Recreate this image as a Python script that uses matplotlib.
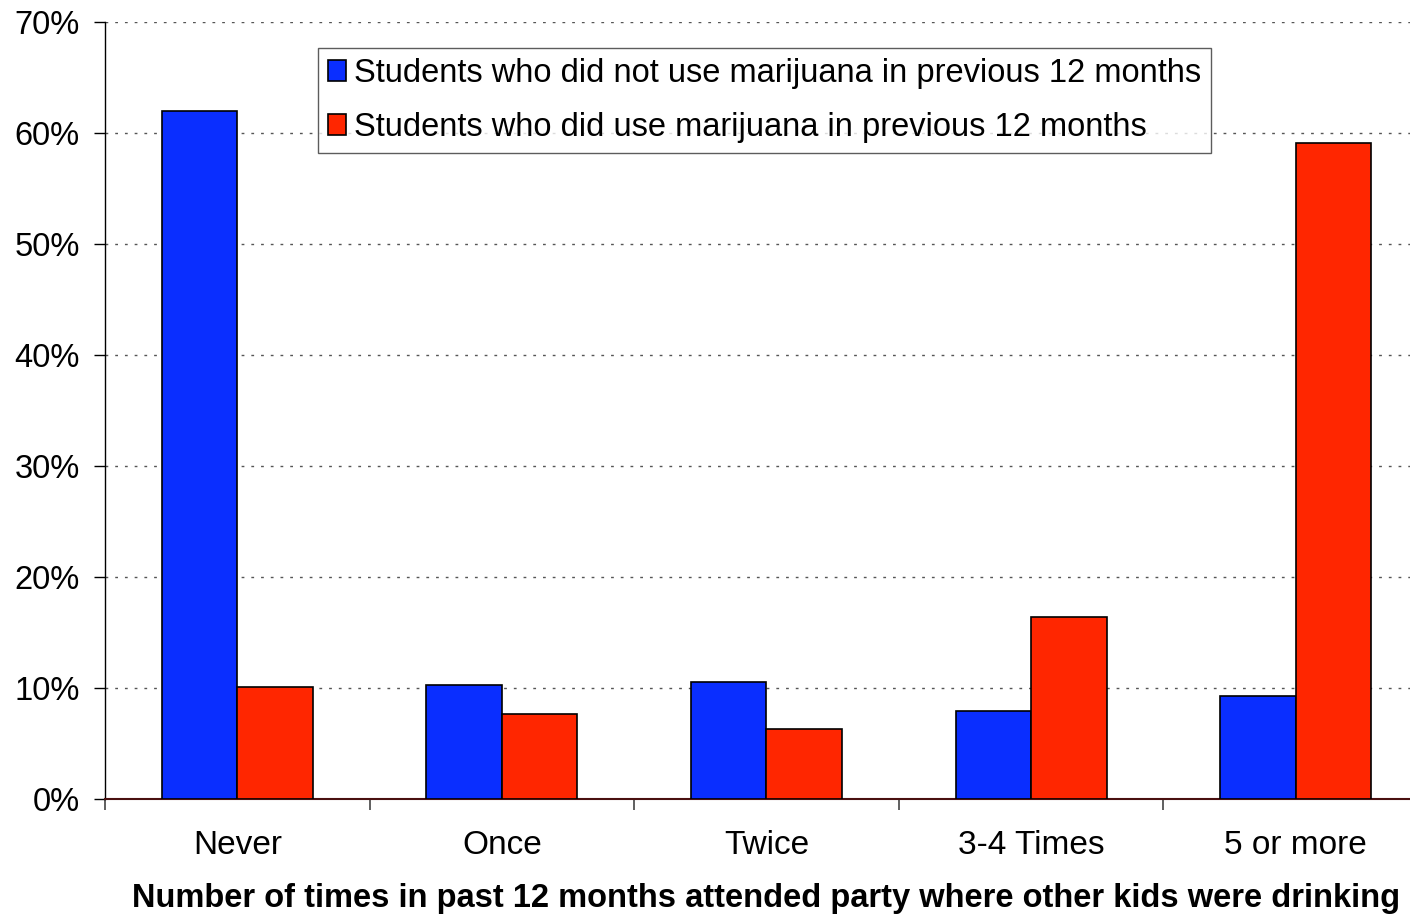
import matplotlib
matplotlib.use("Agg")
import matplotlib.pyplot as plt
import numpy as np
from matplotlib.ticker import FuncFormatter

categories = ["Never", "Once", "Twice", "3-4 Times", "5 or more"]
non_users = [62.0, 10.3, 10.5, 7.9, 9.3]
users = [10.1, 7.7, 6.3, 16.4, 59.1]
series_names = ["Students who did not use marijuana in previous 12 months",
                "Students who did use marijuana in previous 12 months"]
yticks = [0, 10, 20, 30, 40, 50, 60, 70]
xlabel = "Number of times in past 12 months attended party where other kids were drinking"

plt.rcParams['font.family'] = ['Liberation Sans', 'DejaVu Sans']

W, H = 1410, 914
fig = plt.figure(figsize=(W/100, H/100), dpi=100)
left, right = 105, 1428
top, bottom = 22, 799
ax = fig.add_axes([left/W, 1 - bottom/H, (right-left)/W, (bottom-top)/H])

x = np.arange(len(categories))
bw = 0.285
ax.bar(x - bw/2, non_users, bw, color="#0A2EFF", edgecolor="black", linewidth=1.2,
       label=series_names[0], zorder=3)
ax.bar(x + bw/2, users, bw, color="#FF2600", edgecolor="black", linewidth=1.2,
       label=series_names[1], zorder=3)

ax.set_xlim(-0.5, len(categories) - 0.5)
ax.set_ylim(0, 70)
ax.set_yticks(yticks)
ax.yaxis.set_major_formatter(FuncFormatter(lambda v, p: f"{int(v)}%"))
ax.set_xticks(x)
ax.set_xticklabels(categories, fontsize=24)
ax.set_xticks(np.arange(len(categories)) - 0.5, minor=True)
ax.tick_params(axis='x', which='major', length=0, pad=22)
ax.tick_params(axis='x', which='minor', length=8, width=1.2, color='#444444')
ax.tick_params(axis='y', labelsize=23.5, length=8, width=1.0, direction='out', pad=10)

ax.yaxis.grid(True, linestyle=(0, (2, 5)), color='#555555', linewidth=1.0, zorder=0)
for s in ['top', 'right']:
    ax.spines[s].set_visible(False)
ax.spines['left'].set_linewidth(1.0)
ax.spines['bottom'].set_linewidth(1.5)
ax.spines['bottom'].set_color('#4a1010')

fig.text(766/W, 1 - 898/H, xlabel, fontsize=23.5, fontweight='bold',
         ha='center', va='center')

leg = ax.legend(loc='upper left', bbox_to_anchor=((318-left)/(right-left), 1 - (48-top)/(bottom-top)),
                fontsize=23.5, frameon=True, fancybox=False, edgecolor='#333333',
                handlelength=0.55, handleheight=0.6, handletextpad=0.25,
                borderpad=0.3, labelspacing=0.72, borderaxespad=0)
leg.get_frame().set_linewidth(1.0)

fig.savefig("out.png", dpi=100)
